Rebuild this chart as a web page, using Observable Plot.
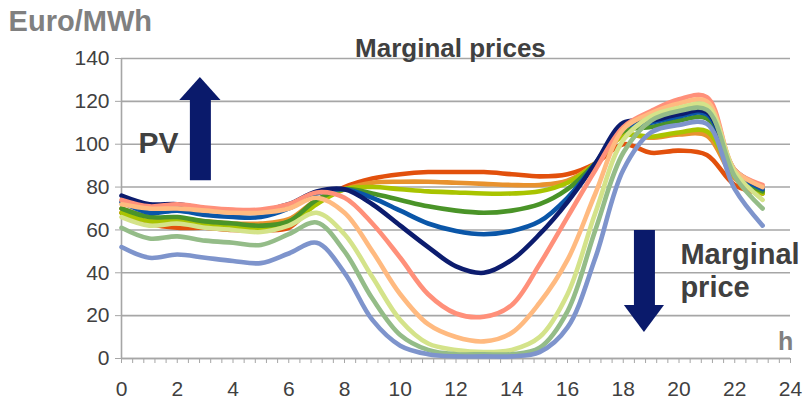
<!DOCTYPE html>
<html>
<head>
<meta charset="utf-8">
<script src="https://cdn.jsdelivr.net/npm/d3@7"></script>
<script src="https://cdn.jsdelivr.net/npm/@observablehq/plot@0.6"></script>
<style>
  html, body { margin: 0; padding: 0; background: #fff; }
  #chart { position: relative; width: 810px; height: 402px; }
</style>
</head>
<body>
<div id="chart"></div>
<script>
const hours = d3.range(0, 24);

const seriesNames = ["s1","s2","s3","s4","s5","s6","s7","s8","s9","s10","s11"];
const seriesColors = ["#E2500C","#E8922E","#A9C400","#4A9428","#0A56A8","#0C1C6E","#FF907A","#FFBA80","#D4E38A","#94BC88","#7E94CC"];

const s1  = [68,63,61,61,60,60,61,73,80,84,86,87,87,87,86,85,86,91,100,96,97,95,81,77];
const s2  = [70,66,65,64,63,63,65,74,79,82,82.5,82.5,82,81.5,81,81,83,91,104,103,104.5,104,84,78];
const s3  = [68,64,64,62,61,61,63,72,79,80,79,78,77.5,77,77,78,82,91,104,103.5,105.5,106,85,77];
const s4  = [70,66,66,64,63,62,64,74,79,77,74,71,69,68,69,72,79,91,106,108,111,112,86,78];
const s5  = [73,68,69,67,66,66,70,77,79,75,69,63,59.5,58,59.5,64,75,91,108,110,113,114,87,79];
const s6  = [76,72,72,70,69,69,72,78,79,72,62,52,43,40,46,58,73,91,110,111,114,115,88,80];
const s7  = [74,71,72,70.5,69.5,69.5,72,77.5,75,63,47,30,21,19.5,25,44,66,88,108,115.5,121,122,88,81];
const s8  = [72,70,70,69,68,68,70,75,68,50,30,16,10,8,12,26,46,77,107,114.5,119,120,88,80];
const s9  = [66,62,63,61,60,59,62,68,58,38,18,7,4,3,4,10,30,68,102,113,117,118,87,74];
const s10 = [61,56,57,55,54,53,58,63.5,50,28,11,4,2,2,2,5,22,60,96,111,115.5,116,85,70];
const s11 = [52,47,48.5,47,45.5,44.5,49,54,40,18,6,2,1,1,1,3,14.5,47,88,105.5,109,109.5,79,62];
const seriesValues = [s1,s2,s3,s4,s5,s6,s7,s8,s9,s10,s11];

const xMajorTicks = d3.range(0, 25, 2);
const xMinorTicks = d3.range(0, 61).map(i => i * 0.4);
const yTicks = d3.range(0, 141, 20);

// annotation arrows (data units): shaft from "from" to "base", head from "base" to "tip"
const arrows = [
  {x: 2.83, from: 83, base: 120.4, tip: 131.1, half: 0.74},
  {x: 18.76, from: 59.7, base: 24.7, tip: 12.1, half: 0.72}
];
const arrowHeads = arrows.flatMap((a, i) => [
  {id: i, x: a.x - a.half, y1: a.base, y2: a.base},
  {id: i, x: a.x, y1: a.base, y2: a.tip},
  {id: i, x: a.x + a.half, y1: a.base, y2: a.base}
]);

const rows = [];
seriesNames.forEach((name, i) => {
  seriesValues[i].forEach((v, j) => rows.push({series: name, hour: hours[j], value: v}));
});

const navy = "#0A1A6B";
const dark = "#404040";
const grey = "#808080";
const chart = Plot.plot({
  width: 810,
  height: 402,
  marginLeft: 121,
  marginRight: 20,
  marginTop: 58,
  marginBottom: 44,
  style: {fontFamily: "'Liberation Sans', Arial, sans-serif", fontSize: "21px", color: dark, background: "#fff", overflow: "visible"},
  x: {domain: [0, 24], label: null},
  y: {domain: [0, 140], label: null},
  color: {domain: seriesNames, range: seriesColors},
  marks: [
    Plot.gridY(yTicks, {stroke: "#A6A6A6", strokeOpacity: 1, strokeWidth: 1.6}),
    Plot.ruleX([0], {stroke: "#A6A6A6", strokeWidth: 1.6}),
    Plot.ruleY([0], {stroke: "#A6A6A6", strokeWidth: 1.6}),
    Plot.axisY(yTicks, {tickSize: 6, tickPadding: 6, stroke: "#A6A6A6", fontSize: 21, fill: dark}),
    Plot.axisX(xMinorTicks, {tickSize: 5, tickFormat: () => "", stroke: "#A6A6A6"}),
    Plot.axisX(xMajorTicks, {tickSize: 0, tickPadding: 23, fontSize: 21, fill: dark}),
    Plot.line(rows, {x: "hour", y: "value", z: "series", stroke: "series", strokeWidth: 4.6, curve: "catmull-rom", strokeLinejoin: "round"}),
    // arrows
    Plot.ruleX(arrows, {x: "x", y1: "from", y2: "base", stroke: navy, strokeWidth: 21}),
    Plot.areaY(arrowHeads, {x: "x", y1: "y1", y2: "y2", z: "id", fill: navy, curve: "linear"}),
    // texts
    Plot.text(["PV"], {x: 0.61, y: 96.1, text: d => d, textAnchor: "start", lineAnchor: "bottom", fontSize: 30, fontWeight: "bold", fill: dark}),
    Plot.text(["Marginal", "price"], {x: 20.05, y: (d, i) => i === 0 ? 44.3 : 28.9, text: d => d, textAnchor: "start", lineAnchor: "bottom", fontSize: 29, fontWeight: "bold", fill: dark}),
    Plot.text(["h"], {x: 23.55, y: 4.2, text: d => d, textAnchor: "start", lineAnchor: "bottom", fontSize: 25, fontWeight: "bold", fill: grey}),
    Plot.text(["Marginal prices"], {x: 11.8, y: 140.9, text: d => d, textAnchor: "middle", lineAnchor: "bottom", fontSize: 26, fontWeight: "bold", fill: dark}),
    Plot.text(["Euro/MWh"], {x: -4.05, y: 153, text: d => d, textAnchor: "start", lineAnchor: "bottom", fontSize: 29, fontWeight: "bold", fill: grey})
  ]
});
document.getElementById("chart").appendChild(chart);
</script>
</body>
</html>
